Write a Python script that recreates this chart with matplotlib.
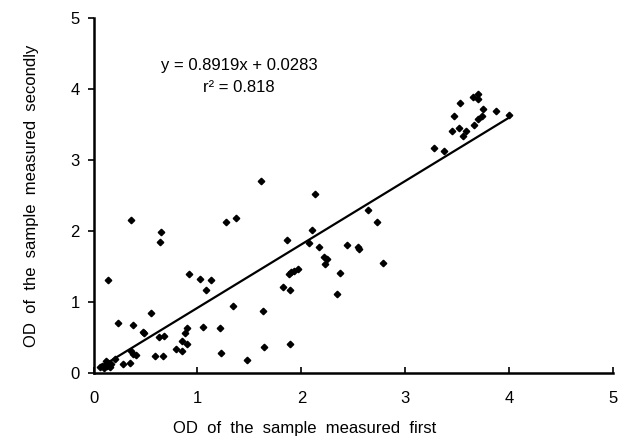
import matplotlib
matplotlib.use("Agg")
import matplotlib.pyplot as plt
import numpy as np

plt.rcParams["font.family"] = ["Liberation Sans", "DejaVu Sans"]

# OD readings, first measurement vs second measurement
od_first = [
    0.06, 0.08, 0.10, 0.11, 0.13, 0.14, 0.16, 0.17, 0.12, 0.21,
    0.137, 0.358, 0.65, 0.64, 1.275, 1.375, 1.61, 0.92, 1.02, 1.13,
    1.08, 1.34, 0.55, 0.24, 0.38, 0.48, 0.49, 0.63, 0.68, 0.90,
    0.88, 0.85, 0.90, 1.05, 1.22, 1.23, 1.48, 0.79, 0.85, 0.59,
    0.67, 0.36, 0.38, 0.41, 0.35, 0.28,
    2.135, 2.64, 2.73, 2.10, 1.86, 2.07, 2.17, 2.44, 2.54, 2.55,
    2.22, 2.25, 2.225, 2.78, 1.88, 1.90, 1.93, 1.97, 2.375, 1.82,
    1.89, 2.34, 1.63, 1.64, 1.89,
    3.28, 3.37, 3.45, 3.52, 3.55, 3.585, 3.47, 3.53, 3.66, 3.70,
    3.74, 3.75, 3.87, 3.65, 3.70, 3.70, 4.00,
]
od_second = [
    0.09, 0.10, 0.08, 0.12, 0.10, 0.15, 0.09, 0.13, 0.17, 0.20,
    1.31, 2.16, 1.98, 1.85, 2.12, 2.18, 2.70, 1.39, 1.33, 1.31,
    1.17, 0.95, 0.85, 0.71, 0.68, 0.58, 0.56, 0.51, 0.53, 0.63,
    0.56, 0.46, 0.41, 0.65, 0.63, 0.29, 0.19, 0.34, 0.31, 0.25,
    0.24, 0.32, 0.27, 0.26, 0.15, 0.13,
    2.52, 2.29, 2.13, 2.02, 1.87, 1.83, 1.78, 1.80, 1.77, 1.75,
    1.63, 1.61, 1.53, 1.55, 1.39, 1.42, 1.44, 1.47, 1.41, 1.21,
    1.17, 1.12, 0.88, 0.37, 0.41,
    3.16, 3.12, 3.40, 3.45, 3.34, 3.40, 3.62, 3.80, 3.49, 3.58,
    3.61, 3.71, 3.69, 3.88, 3.92, 3.85, 3.63,
]
slope = 0.8919
intercept = 0.0283
r_squared = 0.818
ticks = [0, 1, 2, 3, 4, 5]

fig = plt.figure(figsize=(6.21, 4.36), dpi=100)
ax = fig.add_axes([0.1506, 0.1438, 0.837, 0.816])

ax.plot(od_first, od_second, linestyle="none", marker="D", markersize=3.3,
        color="black")

x_fit = np.array([min(od_first), max(od_first)])
ax.plot(x_fit, slope * x_fit + intercept, color="black", linewidth=1.6)

ax.text(1.40, 4.32, f"y = {slope}x + {intercept}", ha="center", va="center",
        fontsize=12)
ax.text(1.40, 4.01, f"r\u00b2 = {r_squared}", ha="center", va="center",
        fontsize=12)

ax.set_xlim(0, 5)
ax.set_ylim(0, 5)
ax.set_xticks(ticks)
ax.set_yticks(ticks)
ax.tick_params(axis="x", direction="in", length=4, width=1.2, pad=13,
               labelsize=12)
ax.tick_params(axis="y", direction="out", length=4, width=1.2, pad=6,
               labelsize=12)
for side in ("top", "right"):
    ax.spines[side].set_visible(False)
for side in ("left", "bottom"):
    ax.spines[side].set_linewidth(1.8)

ax.set_xlabel("OD  of  the  sample  measured  first", fontsize=12)
ax.xaxis.set_label_coords(0.407, -0.135)
ax.set_ylabel("OD  of  the  sample  measured  secondly", fontsize=12)
ax.yaxis.set_label_coords(-0.105, 0.5)

fig.savefig("out.png", dpi=100)
